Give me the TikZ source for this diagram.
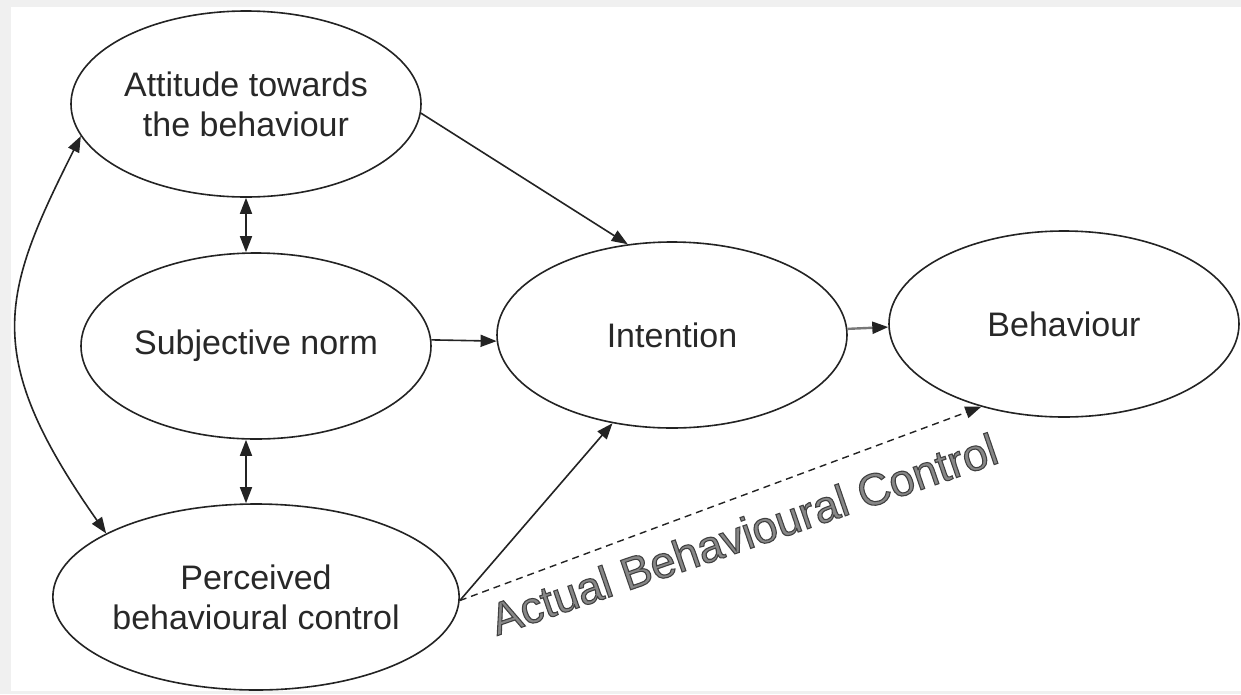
\documentclass[tikz,border=0pt]{standalone}
\usepackage{fontspec}
\setmainfont{Liberation Sans}
\newfontfamily\abcboldfont[FakeBold=2.4]{Liberation Sans}
\usetikzlibrary{arrows.meta,shapes.geometric}
\definecolor{ink}{RGB}{35,35,35}
\definecolor{txt}{RGB}{40,40,40}
\definecolor{abcfill}{RGB}{135,135,135}
\definecolor{framecol}{RGB}{240,240,240}
\definecolor{midline}{RGB}{120,120,120}
\begin{document}
\begin{tikzpicture}[x=1pt,y=-1pt,
  oval/.style={ellipse, draw=ink, line width=1.6pt, inner sep=0pt,
    minimum width=350pt, minimum height=186pt, align=center, text=txt,
    font=\fontsize{34}{40}\selectfont},
  link/.style={draw=ink, line width=1.6pt, -{Triangle[length=16pt,width=12pt,color=ink]}},
  both/.style={draw=ink, line width=1.6pt,
    {Triangle[length=16pt,width=12pt]}-{Triangle[length=16pt,width=12pt]}},
  dashlink/.style={draw=ink, line width=1.4pt, dash pattern=on 7pt off 5pt,
    -{Triangle[length=16pt,width=12pt]}},
  abclabel/.style={rotate=19, anchor=base, font=\fontsize{45}{54}\selectfont}]
\fill[framecol] (0,0) rectangle (1241,694);
\fill[white] (11,7) rectangle (1241,691);
\useasboundingbox (0,0) rectangle (1241,694);

\node[oval] (att) at (246,104) {Attitude towards\\the behaviour};
\node[oval] (sn)  at (256,346) {Subjective norm};
\node[oval] (pbc) at (256,597) {Perceived\\behavioural control};
\node[oval] (int) at (672,335) {Intention};
\node[oval] (beh) at (1064,324) {Behaviour};

\draw[link] (att.-3) -- (int.116);
\draw[link] (sn.2) -- (int.182);
\draw[link] (pbc.-1) -- (int.236);
\draw[link, draw=midline, line width=2.4pt] (int.2) -- (beh.181);
\draw[both] (att.south) -- (att.south |- sn.north);
\draw[both] (sn.south -| att.south) -- (pbc.north -| att.south);
\draw[both] (att.191) .. controls +(-80,159) and +(-125,-178) .. (pbc.157);
\draw[dashlink] (pbc.-1) -- (beh.225);

\node[abclabel, text=abcfill] (actual) at (749,549)
  {\special{pdf:literal direct 0.25 G}\abcboldfont Actual Behavioural Control};
\end{tikzpicture}
\end{document}
